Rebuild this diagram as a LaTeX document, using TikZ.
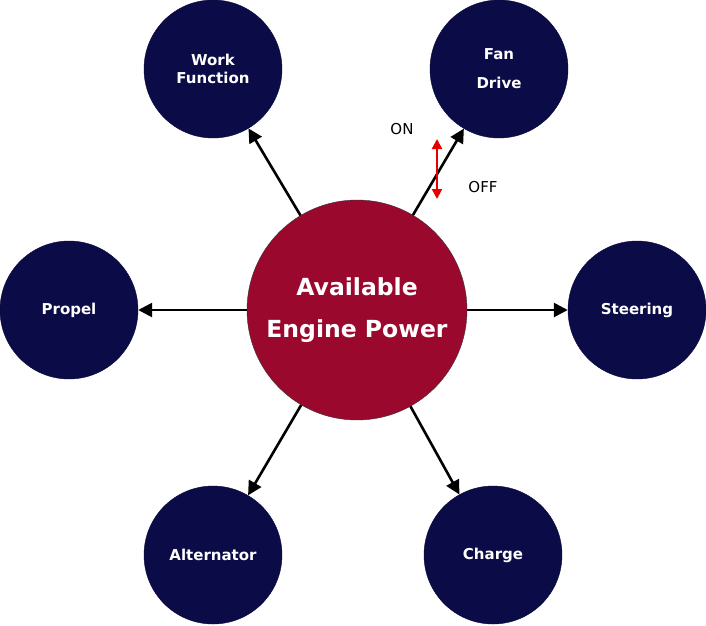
\documentclass[tikz,border=0pt]{standalone}
\usepackage{fontspec}
\setmainfont{DejaVu Sans}
\usetikzlibrary{arrows.meta}
\definecolor{navyblue}{RGB}{11,11,72}
\definecolor{enginered}{RGB}{155,8,45}
\tikzset{
  hub/.style={circle, draw=black!80, fill=enginered, text=white, minimum size=220pt, inner sep=0pt, align=center, font=\bfseries\fontsize{23.5}{42}\selectfont},
  consumer/.style={circle, draw=navyblue!80!black, fill=navyblue, text=white, minimum size=138pt, inner sep=0pt, align=center, font=\bfseries\fontsize{15}{18}\selectfont},
  powerflow/.style={line width=2.6pt, -{Triangle[length=14pt,width=14pt]}},
  onoff/.style={line width=2.2pt, red!90!black, {Triangle[length=10pt,width=10pt]}-{Triangle[length=10pt,width=10pt]}},
  switchlabel/.style={font=\fontsize{15}{18}\selectfont}
}
\begin{document}
\begin{tikzpicture}[x=1pt, y=-1pt]
  \useasboundingbox (0,0) rectangle (706,625);

  \node[hub] (avail) at (357,310) {Available\\Engine Power};
  \node[consumer] (work) at (213,69) {Work\\Function};
  \node[consumer, font=\bfseries\fontsize{15}{29}\selectfont] (fan) at (499,69) {Fan\\Drive};
  \node[consumer] (propel) at (69,310) {Propel};
  \node[consumer] (steer) at (637,310) {Steering};
  \node[consumer] (alt) at (213,555) {Alternator};
  \node[consumer] (charge) at (493,555) {Charge};

  \draw[powerflow] (avail) -- (work);
  \draw[powerflow] (avail) -- (fan);
  \draw[powerflow] (avail) -- (propel);
  \draw[powerflow] (avail) -- (steer);
  \draw[powerflow] (avail) -- (alt);
  \draw[powerflow] (avail) -- (charge);

  % fan drive switch
  \coordinate (onend) at (437,139);
  \coordinate (offend) at (437,199);
  \draw[onoff] (onend) -- (offend);
  \node[switchlabel] (on) at (402,129) {ON};
  \node[switchlabel] (off) at (483,187) {OFF};
\end{tikzpicture}
\end{document}
